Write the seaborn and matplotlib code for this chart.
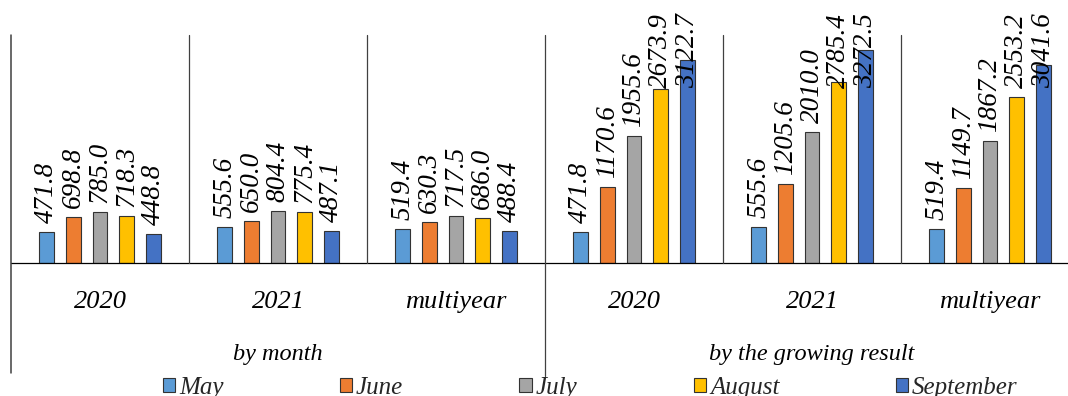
import numpy as np
import pandas as pd
import matplotlib
matplotlib.use("Agg")
import matplotlib.pyplot as plt
from matplotlib.patches import Patch
from matplotlib.lines import Line2D
import seaborn as sns

# ---------------- data ----------------
periods = ["2020", "2021", "multiyear"]
groups = ["by month", "by the growing result"]
months = ["May", "June", "July", "August", "September"]

by_month_2020 = [471.8, 698.8, 785.0, 718.3, 448.8]
by_month_2021 = [555.6, 650.0, 804.4, 775.4, 487.1]
by_month_multi = [519.4, 630.3, 717.5, 686.0, 488.4]

growing_2020 = [471.8, 1170.6, 1955.6, 2673.9, 3122.7]
growing_2021 = [555.6, 1205.6, 2010.0, 2785.4, 3272.5]
growing_multi = [519.4, 1149.7, 1867.2, 2553.2, 3041.6]

colors = ["#5B9BD5", "#ED7D31", "#A5A5A5", "#FFC000", "#4472C4"]

series = [
    (groups[0], periods[0], by_month_2020),
    (groups[0], periods[1], by_month_2021),
    (groups[0], periods[2], by_month_multi),
    (groups[1], periods[0], growing_2020),
    (groups[1], periods[1], growing_2021),
    (groups[1], periods[2], growing_multi),
]

rows = []
keys = []
for g, p, vals in series:
    key = f"{g} | {p}"
    keys.append(key)
    for m, v in zip(months, vals):
        rows.append({"key": key, "group": g, "period": p, "month": m, "value": v})
df = pd.DataFrame(rows)

# ---------------- style ----------------
sns.set_style("white")
plt.rcParams["font.family"] = ["Liberation Serif", "DejaVu Serif"]
plt.rcParams["font.style"] = "italic"
FS = 18
FS_LAB = 19.5
FS_CAT = 19
LINE_C = "#404040"
EDGE_C = "#333333"

W, H = 1068, 396
fig = plt.figure(figsize=(W / 100, H / 100), dpi=100)

# axes: x from 11 px to 1079 px, baseline at 263 px, top at 35 px
ax_left, ax_right = 11, 1079
base_y, top_y = 263, 35
ax = fig.add_axes([ax_left / W, (H - base_y) / H, (ax_right - ax_left) / W, (base_y - top_y) / H])

sns.barplot(
    data=df, x="key", y="value", hue="month", order=keys, hue_order=months,
    palette=colors, saturation=1, width=0.75, gap=0.45,
    edgecolor=EDGE_C, linewidth=0.8, legend=False, ax=ax,
)
ax.set_xlim(-0.5, len(keys) - 0.5)
ax.set_ylim(0, 3500)
ax.set_axis_off()

# baseline
ax.add_line(Line2D([0, 1], [0, 0], transform=ax.transAxes, color="black", lw=0.9, clip_on=False))
# left axis line (extends down through the label area)
ax.add_line(Line2D([0, 0], [1, -0.481], transform=ax.transAxes, color=LINE_C, lw=1.1, clip_on=False))
# category dividers
xt = ax.get_xaxis_transform()
for i in range(len(keys) - 1):
    xd = i + 0.5
    if i == 2:
        ax.add_line(Line2D([xd, xd], [1, -0.497], transform=xt, color=LINE_C, lw=0.9, clip_on=False))
    else:
        ax.add_line(Line2D([xd, xd], [1, 0], transform=xt, color=LINE_C, lw=0.9, clip_on=False))

# category labels
for i, (g, p, _) in enumerate(series):
    ax.text(i, -(308 - base_y) / (base_y - top_y), p, transform=xt, ha="center", va="baseline",
            fontsize=FS_CAT, color="black")
# group labels
for gi, g in enumerate(groups):
    xc = 3 * gi + 1
    ax.text(xc, -(360 - base_y) / (base_y - top_y), g, transform=xt, ha="center", va="baseline",
            fontsize=FS - 0.5, color="black")

# data labels
anns = []
for cont in ax.containers:
    labs = [f"{b.get_height():.1f}" for b in cont]
    anns += ax.bar_label(cont, labels=labs, padding=6.5, rotation=90, fontsize=FS_LAB,
                         color="black", clip_on=False)

fig.canvas.draw()
renderer = fig.canvas.get_renderer()
top_limit = fig.bbox.height - 13
for a in anns:
    bb = a.get_window_extent(renderer)
    if bb.y1 > top_limit:
        dy = (bb.y1 - top_limit) * 72 / fig.dpi
        xo, yo = a.xyann
        a.xyann = (xo, yo - dy)

# legend
handles = [Patch(facecolor=c, edgecolor=EDGE_C, linewidth=0.8) for c in colors]
fig.legend(handles, months, loc="center left", bbox_to_anchor=(162.7 / W, (H - 388) / H),
           ncol=5, frameon=False, fontsize=FS, borderpad=0, borderaxespad=0,
           handlelength=0.5, handleheight=0.5, handletextpad=0.15, columnspacing=4.65)

fig.savefig("out.png", dpi=100)
